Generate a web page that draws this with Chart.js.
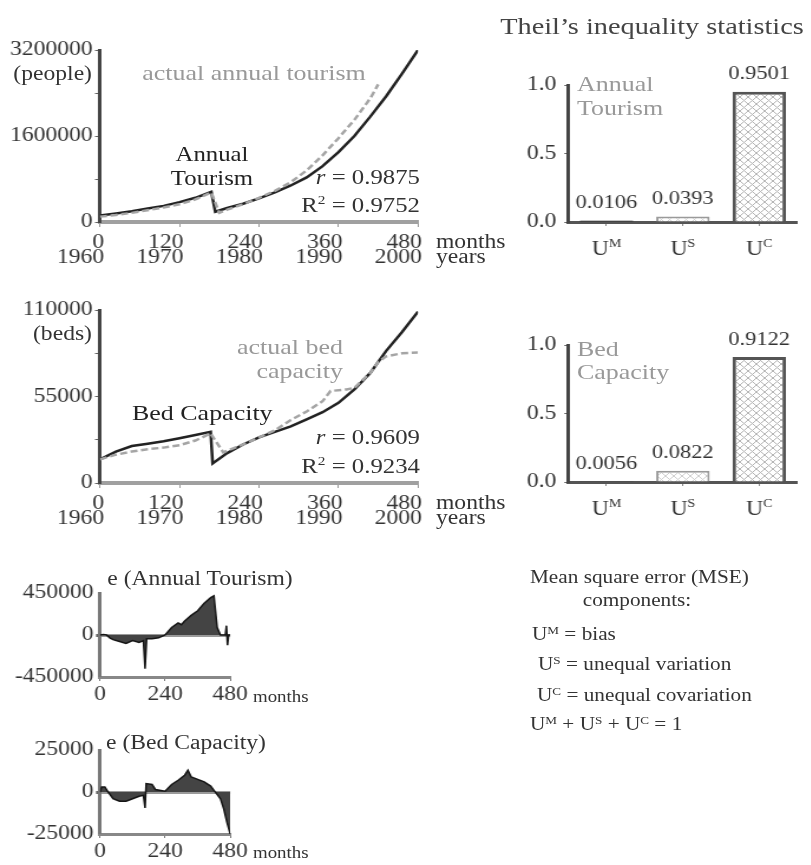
<!DOCTYPE html>
<html>
<head>
<meta charset="utf-8">
<script src="https://cdn.jsdelivr.net/npm/chart.js@4.4.0/dist/chart.umd.min.js"></script>
<style>
    body { margin: 0; background: #fff; width: 811px; height: 865px; position: relative; overflow: hidden;
           font-family: "Liberation Serif", serif; color: #333; }
    #page { position: absolute; left: 0; top: 0; height: 865px; transform-origin: 0 0; }
    canvas { position: absolute; }
    .t { position: absolute; white-space: nowrap; line-height: 1; }
    .t sup { font-size: 62%; vertical-align: 0.55em; line-height: 0; }
</style>
</head>
<body>
<div id="page">
    <canvas id="tourism"></canvas>
    <canvas id="beds"></canvas>
    <canvas id="errTourism"></canvas>
    <canvas id="errBeds"></canvas>
    <canvas id="theilTourism"></canvas>
    <canvas id="theilBeds"></canvas>
</div>
<script>
// months since Jan 1960 and simulated / actual annual tourism (people)
const tourismSimMonths = [0, 24, 48, 72, 96, 120, 144, 168, 174, 192, 216, 240, 264, 288, 312, 336, 360, 384, 408, 432, 456, 480];
const tourismSim = [120000, 160000, 200000, 250000, 300000, 370000, 450000, 560000, 190000, 260000, 340000, 440000, 550000, 680000, 830000, 1040000, 1300000, 1600000, 1960000, 2340000, 2760000, 3200000];
const tourismActMonths = [0, 24, 48, 72, 96, 120, 144, 168, 180, 192, 216, 240, 264, 288, 312, 336, 360, 384, 408, 420];
const tourismAct = [100000, 130000, 170000, 220000, 270000, 330000, 420000, 550000, 170000, 230000, 330000, 450000, 580000, 740000, 960000, 1240000, 1560000, 1900000, 2300000, 2560000];

// simulated / actual bed capacity (beds)
const bedSimMonths = [0, 24, 48, 72, 96, 120, 144, 167, 170, 192, 216, 240, 264, 288, 312, 336, 360, 384, 408, 432, 456, 480];
const bedSim = [15000, 20000, 23500, 25000, 26500, 28500, 30500, 32500, 12500, 19000, 24500, 29000, 32500, 36000, 40500, 45000, 51000, 59500, 70000, 84000, 96000, 109000];
const bedActMonths = [0, 24, 48, 72, 96, 120, 144, 167, 186, 216, 240, 264, 288, 312, 336, 348, 372, 384, 408, 420, 432, 456, 480];
const bedAct = [15000, 18000, 20000, 21500, 22500, 24000, 27000, 31500, 19500, 24500, 29000, 33500, 40000, 45500, 52000, 58500, 59500, 60500, 70000, 77000, 80500, 82500, 83000];

// error series e = actual - simulated
const errTourismMonths = [0, 12, 24, 36, 48, 72, 96, 120, 144, 160, 166, 172, 192, 216, 240, 264, 288, 300, 312, 336, 360, 384, 408, 420, 432, 444, 462, 466, 470, 474, 480];
const errTourism = [0, 5000, 0, -30000, -50000, -70000, -90000, -60000, -80000, -60000, -360000, -40000, -40000, -30000, 0, 80000, 130000, 110000, 150000, 210000, 260000, 340000, 400000, 420000, 80000, 0, 0, 100000, -110000, 0, 0];
const errBedMonths = [0, 6, 18, 30, 48, 72, 96, 120, 144, 160, 166, 170, 192, 204, 240, 264, 288, 312, 324, 336, 360, 384, 408, 420, 432, 444, 456, 468, 480];
const errBed = [0, 3000, 3000, 0, -4000, -5500, -5500, -4000, -2500, -2000, -9500, 5000, 4500, 1500, 500, 4500, 7000, 10000, 13000, 9000, 7500, 6000, 3500, 1000, -1500, -4000, -10000, -18000, -25000];

// Theil's inequality components
const components = ['M', 'S', 'C'];
const theilTourism = [0.0106, 0.0393, 0.9501];
const theilBeds = [0.0056, 0.0822, 0.9122];

// the whole figure is set in a slightly wide serif: draw narrow, stretch sideways
const K = 1.18;
const page = document.getElementById('page');
page.style.width = (811 / K) + 'px';
page.style.transform = `scaleX(${K})`;

const serif = 'Liberation Serif';
const tickFont = { family: serif, size: 20, lineHeight: 0.75 };
Chart.defaults.font.family = serif;
Chart.defaults.color = '#333';
Chart.defaults.animation = false;

const zip = (xs, ys) => xs.map((x, i) => ({ x, y: ys[i] }));

// size and place a canvas so its chart area lands on the given box (figure px)
const setup = (id, area, pad) => {
    const c = document.getElementById(id);
    const p = { y: pad.y / K, right: pad.right / K, top: pad.top, x: pad.x };
    c.width = Math.round(p.y + (area.right - area.left) / K + p.right);
    c.height = pad.top + (area.bottom - area.top) + pad.x;
    c.style.left = ((area.left - pad.y) / K) + 'px';
    c.style.top = (area.top - pad.top) + 'px';
    return { canvas: c, p };
};

const baseOptions = (p) => ({
    responsive: false,
    layout: { padding: { top: p.top, right: p.right, left: 0, bottom: 0 } },
    plugins: { legend: { display: false }, tooltip: { enabled: false } },
});

const lineChart = (id, area, cfg) => {
    const { canvas, p } = setup(id, area, { y: 100, top: 14, right: 80, x: 45 });
    new Chart(canvas, {
        type: 'line',
        data: {
            datasets: [
                { data: zip(cfg.actMonths, cfg.act), borderColor: '#a5a5a5', borderWidth: 2.5, borderDash: [6, 3], pointRadius: 0, tension: 0 },
                { data: zip(cfg.simMonths, cfg.sim), borderColor: '#222', borderWidth: 2.5, pointRadius: 0, tension: 0 },
            ]
        },
        options: {
            ...baseOptions(p),
            scales: {
                x: {
                    type: 'linear', min: 0, max: 480,
                    afterFit: s => { s.height = p.x; },
                    border: { color: '#a0a0a0', width: 4 },
                    grid: { drawOnChartArea: false, color: '#999', tickLength: 5 },
                    ticks: { stepSize: 120, font: tickFont, padding: 8, maxRotation: 0, autoSkip: false,
                             align: 'end', labelOffset: 4 / K,
                             callback: v => [String(v), String(1960 + v / 12)] }
                },
                y: {
                    min: 0, max: cfg.max,
                    afterFit: s => { s.width = p.y; },
                    border: { color: '#444', width: 3 },
                    grid: { drawOnChartArea: false, color: '#666', tickLength: 5 / K },
                    ticks: { stepSize: cfg.max / 4, font: tickFont, padding: 2, autoSkip: false,
                             callback: v => v % (cfg.max / 2) === 0 ? String(v) : '' }
                }
            }
        }
    });
};

const errorChart = (id, area, months, values, limit) => {
    const { canvas, p } = setup(id, area, { y: 100, top: 12, right: 40, x: 32 });
    new Chart(canvas, {
        type: 'line',
        data: {
            datasets: [{
                data: zip(months, values), fill: 'origin', backgroundColor: '#444',
                borderColor: '#151515', borderWidth: 1.5, pointRadius: 0, tension: 0
            }]
        },
        options: {
            ...baseOptions(p),
            scales: {
                x: {
                    type: 'linear', min: 0, max: 480,
                    afterFit: s => { s.height = p.x; },
                    border: { color: '#888', width: 3 },
                    grid: { drawOnChartArea: false, color: '#777', tickLength: 4 },
                    ticks: { stepSize: 240, font: tickFont, padding: 6, maxRotation: 0, autoSkip: false }
                },
                y: {
                    min: -limit, max: limit,
                    afterFit: s => { s.width = p.y; },
                    border: { color: '#777', width: 3 },
                    grid: {
                        color: c => c.tick && c.tick.value === 0 ? '#9a9a9a' : 'rgba(0,0,0,0)',
                        lineWidth: c => c.tick && c.tick.value === 0 ? 3 : 0,
                        tickColor: '#666', tickLength: 4 / K
                    },
                    ticks: { stepSize: limit, font: tickFont, padding: 2, autoSkip: false, callback: v => String(v) }
                }
            }
        }
    });
};

const pattern = (line, size) => {
    const p = document.createElement('canvas');
    p.width = p.height = size;
    const g = p.getContext('2d');
    g.fillStyle = '#fff';
    g.fillRect(0, 0, size, size);
    g.strokeStyle = line;
    g.lineWidth = 1;
    g.beginPath();
    g.moveTo(0, 0); g.lineTo(size, size);
    g.moveTo(size, 0); g.lineTo(0, size);
    g.stroke();
    return document.createElement('canvas').getContext('2d').createPattern(p, 'repeat');
};

// U with a superscript letter under each bar
const supLabels = {
    id: 'supLabels',
    afterDraw(chart) {
        const { ctx, chartArea } = chart;
        const x = chart.scales.x;
        ctx.save();
        ctx.fillStyle = '#333';
        ctx.textBaseline = 'alphabetic';
        components.forEach((c, i) => {
            const cx = x.getPixelForValue(i);
            ctx.font = `20px "${serif}"`;
            const wU = ctx.measureText('U').width;
            ctx.font = `12px "${serif}"`;
            const wS = ctx.measureText(c).width;
            const left = cx - (wU + wS) / 2;
            const base = chartArea.bottom + 33;
            ctx.font = `20px "${serif}"`;
            ctx.fillText('U', left, base);
            ctx.font = `12px "${serif}"`;
            ctx.fillText(c, left + wU, base - 8);
        });
        ctx.restore();
    }
};

const valueLabels = {
    id: 'valueLabels',
    afterDatasetsDraw(chart) {
        const { ctx } = chart;
        const values = chart.data.datasets[0].data;
        ctx.save();
        ctx.font = `19px "${serif}"`;
        ctx.fillStyle = '#333';
        ctx.textAlign = 'center';
        ctx.textBaseline = 'bottom';
        chart.getDatasetMeta(0).data.forEach((bar, i) => {
            ctx.fillText(values[i].toFixed(4), bar.x, bar.y - 8);
        });
        ctx.restore();
    }
};

const theilChart = (id, area, values) => {
    const { canvas, p } = setup(id, area, { y: 68, top: 30, right: 12, x: 40 });
    new Chart(canvas, {
        type: 'bar',
        data: {
            labels: components,
            datasets: [{
                data: values,
                backgroundColor: ['#111', pattern('#cfcfcf', 7), pattern('#b5b5b5', 7)],
                borderColor: ['#111', '#9a9a9a', '#555'],
                borderWidth: [1, 2, 3],
                categoryPercentage: 0.7, barPercentage: 1
            }]
        },
        options: {
            ...baseOptions(p),
            scales: {
                x: {
                    afterFit: s => { s.height = p.x; },
                    border: { color: '#555', width: 3 },
                    grid: { drawOnChartArea: false, color: '#888', tickLength: 4, offset: false },
                    ticks: { display: false }
                },
                y: {
                    min: 0, max: 1,
                    afterFit: s => { s.width = p.y; },
                    border: { color: '#444', width: 3 },
                    grid: { drawOnChartArea: false, color: '#666', tickLength: 4 / K },
                    ticks: { stepSize: 0.5, font: tickFont, padding: 8 / K, callback: v => v.toFixed(1) }
                }
            }
        },
        plugins: [valueLabels, supLabels]
    });
};

lineChart('tourism', { left: 100, right: 418, top: 50, bottom: 222 },
    { simMonths: tourismSimMonths, sim: tourismSim, actMonths: tourismActMonths, act: tourismAct, max: 3200000 });
lineChart('beds', { left: 100, right: 418, top: 310, bottom: 483 },
    { simMonths: bedSimMonths, sim: bedSim, actMonths: bedActMonths, act: bedAct, max: 110000 });
errorChart('errTourism', { left: 100, right: 230, top: 593, bottom: 677 }, errTourismMonths, errTourism, 450000);
errorChart('errBeds', { left: 100, right: 230, top: 750, bottom: 834 }, errBedMonths, errBed, 25000);
theilChart('theilTourism', { left: 568, right: 797, top: 85, bottom: 222 }, theilTourism);
theilChart('theilBeds', { left: 568, right: 797, top: 345, bottom: 482 }, theilBeds);

// free-standing labels; anchor is x (figure px), vertical centre y
const label = (html, x, y, align, style) => {
    const d = document.createElement('div');
    d.className = 't';
    d.innerHTML = html;
    const shift = align === 'right' ? '-100%' : align === 'center' ? '-50%' : '0';
    d.style.cssText = `left:${x / K}px;top:${y}px;transform:translate(${shift},-50%);` + (style || '');
    page.appendChild(d);
};
const big = 'font-size:20px;';
const stat = 'font-size:21px;';
const dark = 'font-size:21px;color:#222;';
const grey = 'font-size:22px;color:#999;';
const small = 'font-size:18px;color:#333;';

label('Theil’s inequality statistics', 652, 26, 'center', 'font-size:24px;color:#444;');

label('(people)', 92, 73, 'right', big);
label('actual annual tourism', 254, 73, 'center', grey);
label('Annual', 212, 154, 'center', dark);
label('Tourism', 212, 178, 'center', dark);
label('<i>r</i> = 0.9875', 420, 177, 'right', stat);
label('R<sup>2</sup> = 0.9752', 420, 205, 'right', stat);
label('months', 436, 241, 'left', big);
label('years', 436, 256, 'left', big);

label('(beds)', 92, 333, 'right', big);
label('actual bed', 343, 347, 'right', grey);
label('capacity', 343, 371, 'right', grey);
label('Bed Capacity', 132, 413, 'left', 'font-size:22px;color:#222;');
label('<i>r</i> = 0.9609', 420, 437, 'right', stat);
label('R<sup>2</sup> = 0.9234', 420, 466, 'right', stat);
label('months', 436, 502, 'left', big);
label('years', 436, 517, 'left', big);

label('e (Annual Tourism)', 200, 578, 'center', 'font-size:20px;');
label('months', 253, 697, 'left', 'font-size:16px;');
label('e (Bed Capacity)', 186, 742, 'center', 'font-size:20px;');
label('months', 253, 853, 'left', 'font-size:16px;');

label('Annual', 577, 84, 'left', grey);
label('Tourism', 577, 108, 'left', grey);
label('Bed', 577, 349, 'left', grey);
label('Capacity', 577, 372, 'left', grey);

label('Mean square error (MSE)', 530, 577, 'left', small);
label('components:', 637, 600, 'center', small);
label('U<sup>M</sup> = bias', 532, 634, 'left', small);
label('U<sup>S</sup> = unequal variation', 538, 664, 'left', small);
label('U<sup>C</sup> = unequal covariation', 537, 695, 'left', small);
label('U<sup>M</sup> + U<sup>S</sup> + U<sup>C</sup> = 1', 530, 724, 'left', small);
</script>
</body>
</html>
